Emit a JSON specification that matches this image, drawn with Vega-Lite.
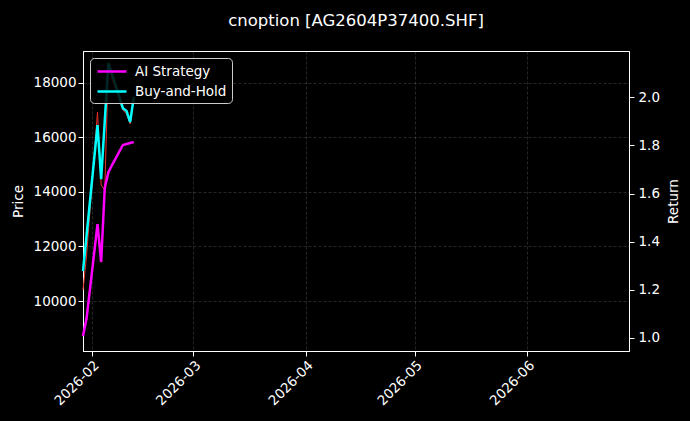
{
  "$schema": "https://vega.github.io/schema/vega-lite/v6.json",
  "width": 546,
  "height": 300,
  "autosize": {"type": "none"},
  "padding": {"left": 83, "top": 51, "right": 61, "bottom": 70},
  "background": "#000000",
  "title": {
    "text": "cnoption [AG2604P37400.SHF]",
    "color": "#ffffff",
    "font": "DejaVu Sans",
    "fontSize": 16.5,
    "fontWeight": "normal",
    "anchor": "middle",
    "frame": "group",
    "offset": 22
  },
  "datasets": {
    "price": [
      {"date": "2026-01-29T15:00:00", "price": 10403},
      {"date": "2026-01-30T15:00:00", "price": 11686},
      {"date": "2026-02-02T15:00:00", "price": 16926},
      {"date": "2026-02-03T15:00:00", "price": 14251},
      {"date": "2026-02-04T15:00:00", "price": 14067},
      {"date": "2026-02-05T15:00:00", "price": 18721},
      {"date": "2026-02-06T15:00:00", "price": 18098},
      {"date": "2026-02-09T15:00:00", "price": 16999},
      {"date": "2026-02-10T15:00:00", "price": 16852},
      {"date": "2026-02-11T15:00:00", "price": 16486},
      {"date": "2026-02-12T15:00:00", "price": 17402}
    ],
    "returns": [
      {"date": "2026-01-29T15:00:00", "series": "AI Strategy", "value": 1.007},
      {"date": "2026-01-30T15:00:00", "series": "AI Strategy", "value": 1.082},
      {"date": "2026-02-02T15:00:00", "series": "AI Strategy", "value": 1.473},
      {"date": "2026-02-03T15:00:00", "series": "AI Strategy", "value": 1.315},
      {"date": "2026-02-04T15:00:00", "series": "AI Strategy", "value": 1.623},
      {"date": "2026-02-05T15:00:00", "series": "AI Strategy", "value": 1.689},
      {"date": "2026-02-06T15:00:00", "series": "AI Strategy", "value": 1.718},
      {"date": "2026-02-09T15:00:00", "series": "AI Strategy", "value": 1.802},
      {"date": "2026-02-10T15:00:00", "series": "AI Strategy", "value": 1.806},
      {"date": "2026-02-11T15:00:00", "series": "AI Strategy", "value": 1.81},
      {"date": "2026-02-12T15:00:00", "series": "AI Strategy", "value": 1.814},
      {"date": "2026-01-29T15:00:00", "series": "Buy-and-Hold", "value": 1.277},
      {"date": "2026-01-30T15:00:00", "series": "Buy-and-Hold", "value": 1.427},
      {"date": "2026-02-02T15:00:00", "series": "Buy-and-Hold", "value": 1.885},
      {"date": "2026-02-03T15:00:00", "series": "Buy-and-Hold", "value": 1.66},
      {"date": "2026-02-04T15:00:00", "series": "Buy-and-Hold", "value": 1.901},
      {"date": "2026-02-05T15:00:00", "series": "Buy-and-Hold", "value": 2.143},
      {"date": "2026-02-06T15:00:00", "series": "Buy-and-Hold", "value": 2.097},
      {"date": "2026-02-09T15:00:00", "series": "Buy-and-Hold", "value": 1.955},
      {"date": "2026-02-10T15:00:00", "series": "Buy-and-Hold", "value": 1.943},
      {"date": "2026-02-11T15:00:00", "series": "Buy-and-Hold", "value": 1.897},
      {"date": "2026-02-12T15:00:00", "series": "Buy-and-Hold", "value": 2.001}
    ]
  },
  "encoding": {
    "x": {
      "field": "date",
      "type": "temporal",
      "scale": {
        "domain": [
          {"year": 2026, "month": 1, "date": 29, "hours": 15},
          {"year": 2026, "month": 6, "date": 29, "hours": 3}
        ]
      },
      "axis": {
        "title": null,
        "format": "%Y-%m",
        "tickCount": {"interval": "month", "step": 1},
        "labelAngle": -45,
        "labelAlign": "right",
        "labelBaseline": "top",
        "labelPadding": 2
      }
    }
  },
  "layer": [
    {
      "data": {"name": "price"},
      "mark": {"type": "line", "color": "#e8302a", "strokeWidth": 1},
      "encoding": {
        "y": {
          "field": "price",
          "type": "quantitative",
          "scale": {"domain": [8168, 19161], "nice": false, "zero": false},
          "axis": {
            "orient": "left",
            "title": "Price",
            "values": [10000, 12000, 14000, 16000, 18000],
            "format": "d",
            "titlePadding": 8
          }
        }
      }
    },
    {
      "data": {"name": "returns"},
      "mark": {"type": "line", "strokeWidth": 2.5},
      "encoding": {
        "y": {
          "field": "value",
          "type": "quantitative",
          "scale": {"domain": [0.945, 2.193], "nice": false, "zero": false},
          "axis": {
            "orient": "right",
            "title": "Return",
            "values": [1.0, 1.2, 1.4, 1.6, 1.8, 2.0],
            "format": ".1f",
            "titleAngle": 270,
            "titlePadding": 21,
            "labelPadding": 4
          }
        },
        "color": {
          "field": "series",
          "type": "nominal",
          "scale": {"domain": ["AI Strategy", "Buy-and-Hold"], "range": ["#ff00ff", "#00ffff"]},
          "legend": {"title": null, "zindex": 1}
        }
      }
    }
  ],
  "resolve": {"scale": {"y": "independent"}},
  "config": {
    "view": {"stroke": "#ffffff", "strokeWidth": 1},
    "axis": {
      "labelFont": "DejaVu Sans",
      "labelFontSize": 13.5,
      "labelColor": "#ffffff",
      "titleFont": "DejaVu Sans",
      "titleFontSize": 13.5,
      "titleFontWeight": "normal",
      "titleColor": "#ffffff",
      "tickColor": "#ffffff",
      "tickSize": 5,
      "domainColor": "#ffffff",
      "grid": true,
      "gridColor": "#ffffff",
      "gridOpacity": 0.25,
      "gridWidth": 0.6,
      "gridDash": [3, 2]
    },
    "legend": {
      "orient": "top-left",
      "offset": 7,
      "padding": 5,
      "fillColor": "rgba(0,0,0,0.85)",
      "strokeColor": "#cccccc",
      "cornerRadius": 4,
      "symbolType": "M-0.86,0H3.29",
      "symbolSize": 196,
      "symbolStrokeWidth": 2.5,
      "labelFont": "DejaVu Sans",
      "labelFontSize": 13.5,
      "labelColor": "#ffffff",
      "rowPadding": 5,
      "labelOffset": 23
    }
  }
}
